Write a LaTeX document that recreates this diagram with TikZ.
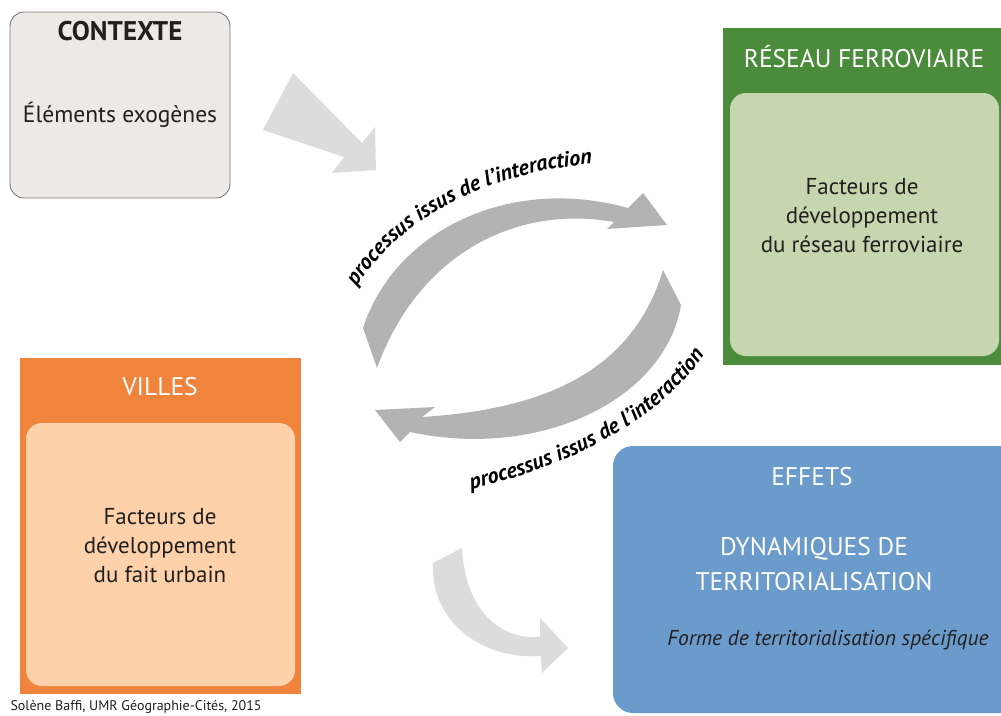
\documentclass[tikz,border=0pt]{standalone}
\usepackage{fontspec}
\setmainfont{PT Sans}
\usetikzlibrary{decorations.text}

\definecolor{ctxfill}{HTML}{EDE9E7}
\definecolor{ctxline}{HTML}{7A7A7A}
\definecolor{railgreen}{HTML}{4B8C3C}
\definecolor{railpale}{HTML}{C6D6AE}
\definecolor{cityorange}{HTML}{F0843C}
\definecolor{citypale}{HTML}{FDD1A9}
\definecolor{effblue}{HTML}{6B9BCB}
\definecolor{arrowdark}{HTML}{B3B3B3}
\definecolor{arrowlight}{HTML}{DCDCDC}
\definecolor{ink}{HTML}{231F20}

\newcommand\boxfont{\fontsize{23}{29}\selectfont}
\newcommand\labelfont{\fontsize{22}{22}\selectfont\bfseries\itshape}

\tikzset{
  panel/.style={rectangle, inner sep=0pt},
  boxtext/.style={align=center, text=ink, font=\boxfont},
  boxtitle/.style={text=white, font=\fontsize{25.5}{29}\selectfont},
  bigarrow/.style={fill=arrowdark},
  softarrow/.style={fill=arrowlight},
}

\begin{document}
\begin{tikzpicture}[x=1pt, y=-1pt]
\clip (0,0) rectangle (1001,715);
\fill[white] (0,0) rectangle (1001,715);

% contexte
\node[panel, fill=ctxfill, draw=ctxline, line width=0.9pt, rounded corners=14pt,
      minimum width=220pt, minimum height=186pt] (contexte) at (120,105) {};
\node[boxtext, font=\fontsize{27}{29}\selectfont\bfseries] (ctxtitle) at (120,31) {CONTEXTE};
\node[boxtext, font=\fontsize{23.5}{29}\selectfont] (ctxtext) at (120,115) {Éléments exogènes};

% reseau ferroviaire
\node[panel, fill=railgreen, minimum width=278pt, minimum height=337pt] (reseau) at (862,196.5) {};
\node[panel, fill=railpale, rounded corners=16pt, minimum width=269pt, minimum height=263pt] (reseauin) at (864.5,224.5) {};
\node[boxtitle] (rstitle) at (864,57) {RÉSEAU FERROVIAIRE};
\node[boxtext] (rstext) at (862,216) {Facteurs de\\développement\\du réseau ferroviaire};

% villes
\node[panel, fill=cityorange, minimum width=281pt, minimum height=336pt] (villes) at (160.5,526) {};
\node[panel, fill=citypale, rounded corners=16pt, minimum width=269pt, minimum height=263pt] (villesin) at (160.5,554.5) {};
\node[boxtitle] (vltitle) at (160,387) {VILLES};
\node[boxtext] (vltext) at (160,546) {Facteurs de\\développement\\du fait urbain};

% effets
\node[panel, fill=effblue, rounded corners=20pt, minimum width=417pt, minimum height=267pt] (effets) at (821.5,579.5) {};
\node[boxtitle] (eftitle) at (812,477) {EFFETS};
\node[boxtitle, align=center, font=\fontsize{25.5}{35}\selectfont] (efdyn) at (814,564) {DYNAMIQUES DE\\TERRITORIALISATION};
\node[boxtext, font=\fontsize{21.5}{29}\selectfont\itshape] (eftext) at (828,640) {Forme de territorialisation spécifique};

% fleches
\fill[softarrow] (293,73) -- (362,143) -- (375,127) -- (376,170) -- (332,173) -- (344,157) -- (263,130) -- cycle;
\fill[softarrow] (462,548) .. controls (465,610) and (500,640) .. (540,637) -- (540,618) -- (568,648)
  -- (542,673) -- (541,656) .. controls (480,660) and (430,620) .. (433,563) -- cycle;
\fill[bigarrow] (363,328) .. controls (395,230) and (510,175) .. (628,208) -- (643,193) -- (667,225)
  -- (607,229) -- (614,222) .. controls (520,205) and (420,250) .. (377,368) -- cycle;
\fill[bigarrow] (663,270) -- (681,305) .. controls (665,400) and (540,460) .. (410,432) -- (400,442)
  -- (375,410) -- (435,407) -- (422,417) .. controls (530,410) and (630,380) .. (663,270) -- cycle;

% labels
\path[decorate, decoration={text along path, text align=center,
  text={|\labelfont|processus issus de l'interaction}}]
  (350,298) .. controls (390,225) and (480,170) .. (605,163);
\path[decorate, decoration={text along path, text align=center,
  text={|\labelfont|processus issus de l'interaction}}]
  (457,492) .. controls (560,472) and (668,420) .. (712,342);

\node[anchor=west, text=ink, font=\fontsize{14}{14}\selectfont] (credit) at (7,707) {Solène Baffi, UMR Géographie-Cités, 2015};
\end{tikzpicture}
\end{document}
